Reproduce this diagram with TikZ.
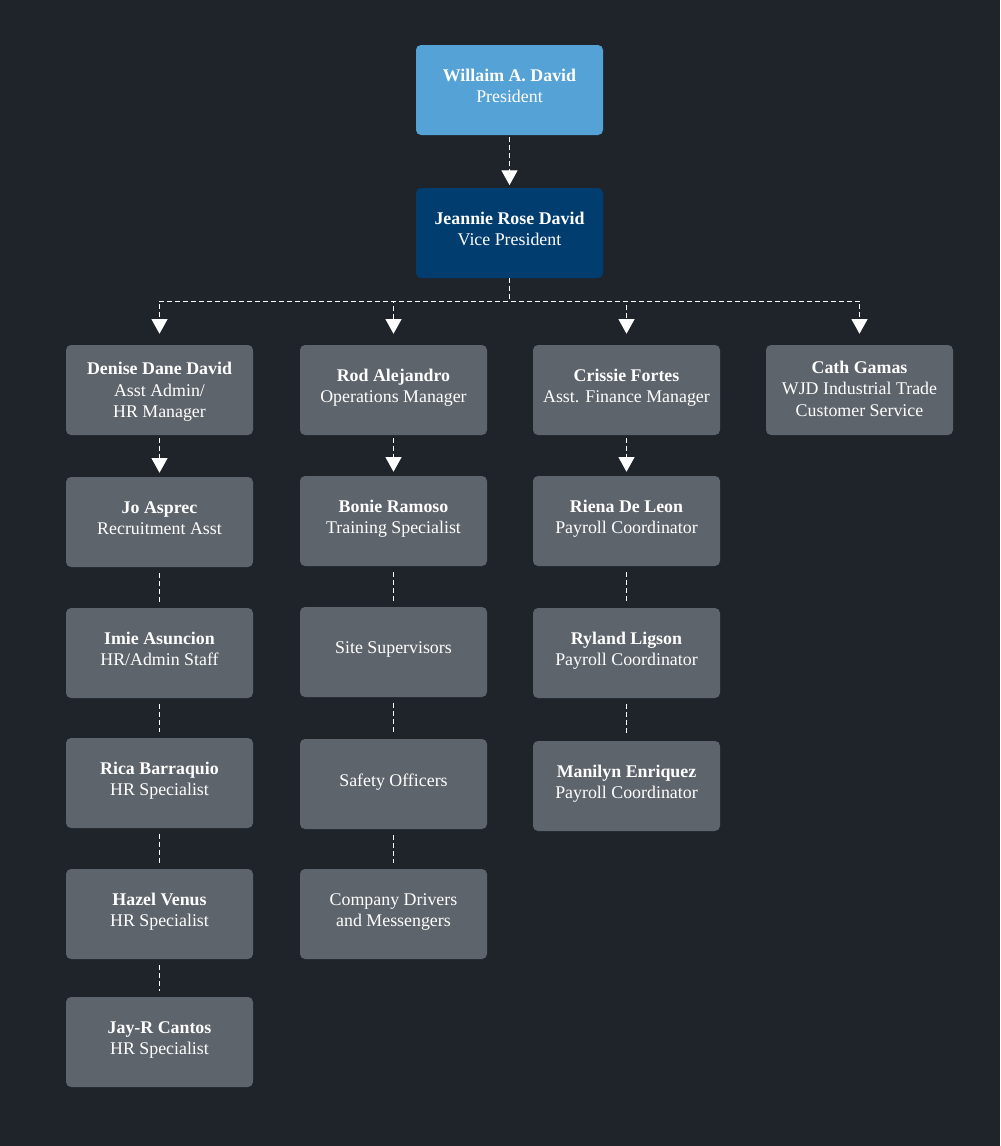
\documentclass[tikz,border=0pt]{standalone}
\usepackage{fontspec}
\setmainfont{Liberation Serif}
\usetikzlibrary{arrows.meta}
\definecolor{bgdark}{HTML}{1F242B}
\definecolor{boxgray}{HTML}{5E646B}
\definecolor{presblue}{HTML}{55A2D6}
\definecolor{vpblue}{HTML}{023D70}
\tikzset{
  box/.style={draw=none, fill=boxgray, rounded corners=3.75pt, minimum width=140.25pt,
    minimum height=67.5pt, align=center, text=white, text depth=6pt,
    font=\fontsize{13.4}{16}\selectfont},
  pres/.style={box, fill=presblue},
  vice/.style={box, fill=vpblue},
  link/.style={draw=white, line width=0.75pt, dash pattern=on 3.75pt off 2.25pt},
  linkarrow/.style={link, -{Triangle[width=12pt,length=11pt]}},
}
\begin{document}
\begin{tikzpicture}[x=0.75pt, y=-0.75pt]
                \useasboundingbox (0,0) rectangle (1000,1146);
                \fill[bgdark] (0,0) rectangle (1000,1146);
                % top
                \node[pres] (president) at (509.5,90) {\textbf{Willaim A. David}\\President};
                \node[vice] (vicepres) at (509.5,233) {\textbf{Jeannie Rose David}\\Vice President};
                % column heads
                \node[box, text depth=0pt] (denise) at (159.5,390) {\textbf{Denise Dane David}\\Asst Admin/\\HR Manager};
                \node[box] (rod) at (393.5,390) {\textbf{Rod Alejandro}\\Operations Manager};
                \node[box] (crissie) at (626.5,390) {\textbf{Crissie Fortes}\\Asst. Finance Manager};
                \node[box, text depth=2pt] (cath) at (859.5,390) {\textbf{Cath Gamas}\\WJD Industrial Trade\\Customer Service};
                % HR column
                \node[box] (jo) at (159.5,522) {\textbf{Jo Asprec}\\Recruitment Asst};
                \node[box] (imie) at (159.5,653) {\textbf{Imie Asuncion}\\HR/Admin Staff};
                \node[box] (rica) at (159.5,783) {\textbf{Rica Barraquio}\\HR Specialist};
                \node[box] (hazel) at (159.5,914) {\textbf{Hazel Venus}\\HR Specialist};
                \node[box] (jayr) at (159.5,1042) {\textbf{Jay-R Cantos}\\HR Specialist};
                % operations column
                \node[box] (bonie) at (393.5,521) {\textbf{Bonie Ramoso}\\Training Specialist};
                \node[box] (site) at (393.5,652) {Site Supervisors};
                \node[box] (safety) at (393.5,784) {Safety Officers};
                \node[box] (drivers) at (393.5,914) {Company Drivers\\and Messengers};
                % finance column
                \node[box] (riena) at (626.5,521) {\textbf{Riena De Leon}\\Payroll Coordinator};
                \node[box] (ryland) at (626.5,653) {\textbf{Ryland Ligson}\\Payroll Coordinator};
                \node[box] (manilyn) at (626.5,786) {\textbf{Manilyn Enriquez}\\Payroll Coordinator};
                % links
                \coordinate (bus) at (509.5,301);
                \draw[linkarrow, shorten <=1.5pt, shorten >=2pt] (president) -- (vicepres);
                \foreach \head in {denise,rod,crissie,cath}
                  \draw[linkarrow, shorten >=8.25pt] (vicepres.south) -- (vicepres.south |- bus) -| (\head.north);
                \foreach \a/\b in {denise/jo,rod/bonie,crissie/riena}
                  \draw[linkarrow, shorten <=2.25pt, shorten >=3pt] (\a) -- (\b);
                \foreach \a/\b in {jo/imie,imie/rica,rica/hazel,hazel/jayr,bonie/site,site/safety,safety/drivers,riena/ryland,ryland/manilyn}
                  \draw[link, shorten <=4.5pt, shorten >=4.5pt] (\a) -- (\b);
            \end{tikzpicture}
\end{document}
